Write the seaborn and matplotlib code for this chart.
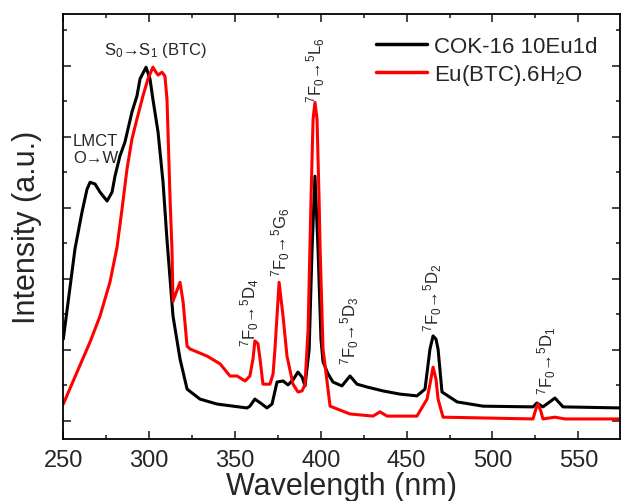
import numpy as np
import pandas as pd
import matplotlib
matplotlib.use('Agg')
import matplotlib.pyplot as plt
from matplotlib.ticker import MultipleLocator, NullFormatter
import seaborn as sns

# Espectro de excitación (unidades arbitrarias)
wl_cok = [250.0, 256.8, 260.9, 263.8, 265.6, 268.5, 271.4, 275.5, 278.4, 280.1,
          283.0, 285.9, 290.0, 292.9, 294.7, 298.2, 300.5, 302.2, 305.2, 308.1,
          310.4, 313.9, 318.0, 322.1, 329.6, 339.5, 357.0, 358.7, 361.6, 365.7,
          368.6, 371.6, 374.5, 378.0, 380.9, 383.8, 386.7, 389.1, 390.8, 393.2,
          394.9, 396.6, 398.4, 400.1, 401.3, 404.2, 407.1, 412.3, 417.0, 421.1,
          426.9, 436.2, 446.1, 456.0, 460.7, 463.6, 465.4, 467.1, 468.3, 470.6,
          479.4, 494.5, 523.6, 525.9, 529.4, 536.4, 541.1, 575.0]
int_cok = [2.30, 4.84, 5.88, 6.52, 6.72, 6.67, 6.44, 6.19, 6.44, 6.89,
           7.46, 7.85, 8.70, 9.15, 9.63, 9.96, 9.63, 9.06, 8.13, 6.72,
           5.10, 2.95, 1.74, 0.89, 0.61, 0.47, 0.36, 0.41, 0.61, 0.47,
           0.36, 0.47, 1.09, 1.12, 1.01, 1.15, 1.37, 1.23, 0.98, 2.00,
           4.83, 6.89, 4.83, 2.30, 1.66, 1.32, 1.09, 0.98, 1.26, 1.03,
           0.95, 0.84, 0.75, 0.70, 0.89, 2.02, 2.39, 2.30, 2.02, 0.81,
           0.53, 0.41, 0.39, 0.50, 0.39, 0.64, 0.39, 0.36]

wl_eu = [250.0, 258.0, 265.6, 271.4, 277.2, 281.3, 284.2, 287.1, 290.0, 292.9,
         296.4, 299.3, 302.2, 304.0, 305.2, 307.5, 309.2, 310.4, 311.0, 312.2,
         313.3, 313.9, 318.0, 319.8, 322.1, 323.9, 333.8, 341.4, 347.1, 351.2,
         355.9, 358.7, 360.5, 361.6, 363.4, 364.6, 366.3, 370.4, 372.2, 373.3,
         375.7, 378.0, 380.3, 383.8, 386.7, 389.1, 390.8, 392.6, 394.3, 395.5,
         396.6, 397.8, 399.0, 399.6, 401.3, 405.4, 417.0, 430.4, 434.5, 438.6,
         456.0, 461.9, 463.6, 465.4, 467.1, 468.3, 471.2, 523.6, 525.3, 526.5,
         528.2, 529.4, 536.4, 542.3, 575.0]
int_eu = [0.47, 1.37, 2.22, 2.95, 3.91, 4.89, 5.96, 7.09, 7.94, 8.50,
          9.15, 9.63, 9.96, 9.82, 9.74, 9.82, 9.71, 9.06, 8.13, 6.24,
          4.83, 3.37, 3.90, 3.34, 2.10, 2.02, 1.82, 1.60, 1.26, 1.26,
          1.12, 1.26, 1.74, 2.25, 2.17, 1.74, 1.03, 1.03, 1.32, 2.02,
          3.90, 2.95, 1.82, 1.03, 0.81, 0.84, 1.03, 2.58, 6.24, 8.50,
          8.97, 8.50, 6.24, 4.83, 2.02, 0.41, 0.19, 0.13, 0.25, 0.13,
          0.13, 0.61, 1.03, 1.51, 1.17, 0.61, 0.10, 0.05, 0.33, 0.47,
          0.27, 0.05, 0.10, 0.05, 0.05]

series_names = ['COK-16 10Eu1d', r'Eu(BTC).6H$_2$O']
series_colors = ['black', 'red']

# Etiquetas de transiciones: texto, x (nm), y (base)
trans_labels = [r'$^7$F$_0$→$^5$L$_6$', r'$^7$F$_0$→$^5$G$_6$', r'$^7$F$_0$→$^5$D$_4$',
                r'$^7$F$_0$→$^5$D$_3$', r'$^7$F$_0$→$^5$D$_2$', r'$^7$F$_0$→$^5$D$_1$']
trans_x = [396.9, 376.8, 358.3, 417.0, 465.4, 531.7]
trans_y = [8.97, 4.07, 2.10, 1.60, 2.53, 0.75]

df = pd.concat([
    pd.DataFrame({'wl': wl_cok, 'I': int_cok, 'muestra': series_names[0]}),
    pd.DataFrame({'wl': wl_eu, 'I': int_eu, 'muestra': series_names[1]}),
])

sns.set_style('ticks')
plt.rcParams['font.family'] = ['Liberation Sans', 'DejaVu Sans']
plt.rcParams['mathtext.fontset'] = 'custom'
plt.rcParams['mathtext.rm'] = 'Liberation Sans'
plt.rcParams['mathtext.it'] = 'Liberation Sans:italic'
plt.rcParams['mathtext.bf'] = 'Liberation Sans:bold'

fig = plt.figure(figsize=(6.21, 5.02), dpi=100)
ax = fig.add_axes([63.3 / 621, 1 - 440 / 502, (619.5 - 63.3) / 621, (440 - 15) / 502])

sns.lineplot(data=df, x='wl', y='I', hue='muestra', palette=series_colors,
             linewidth=2.2, ax=ax, sort=False, estimator=None)

ax.set_xlim(250, 574)
ax.set_ylim(-0.515, 11.46)
ax.xaxis.set_major_locator(MultipleLocator(50))
ax.xaxis.set_minor_locator(MultipleLocator(25))
ax.yaxis.set_major_locator(MultipleLocator(2))
ax.yaxis.set_minor_locator(MultipleLocator(1))
ax.yaxis.set_major_formatter(NullFormatter())
ax.tick_params(which='both', direction='in', top=True, right=True, width=1.2)
ax.tick_params(which='major', length=6, labelsize=17, pad=7)
ax.tick_params(which='minor', length=3)
for s in ax.spines.values():
    s.set_linewidth(1.3)
    s.set_color('black')

ax.set_xlabel('Wavelength (nm)', fontsize=22, labelpad=0)
ax.set_ylabel('Intensity (a.u.)', fontsize=22, labelpad=8)

ax.text(303.4, 10.47, r'S$_0$→S$_1$ (BTC)', fontsize=12, ha='center', va='center')
ax.text(255.7, 7.65, 'LMCT\nO→W', fontsize=12, ha='left', va='center', linespacing=1.2)
for lab, x, y in zip(trans_labels, trans_x, trans_y):
    ax.text(x, y, lab, fontsize=12, rotation=90, ha='center', va='bottom')

leg = ax.legend(loc='upper right', frameon=False, fontsize=16, handlelength=2.3,
                handletextpad=0.3, labelspacing=0.2, bbox_to_anchor=(1.0, 1.0),
                borderaxespad=0.6)
for h in leg.get_lines():
    h.set_linewidth(2.5)

fig.savefig('out.png', dpi=100)
